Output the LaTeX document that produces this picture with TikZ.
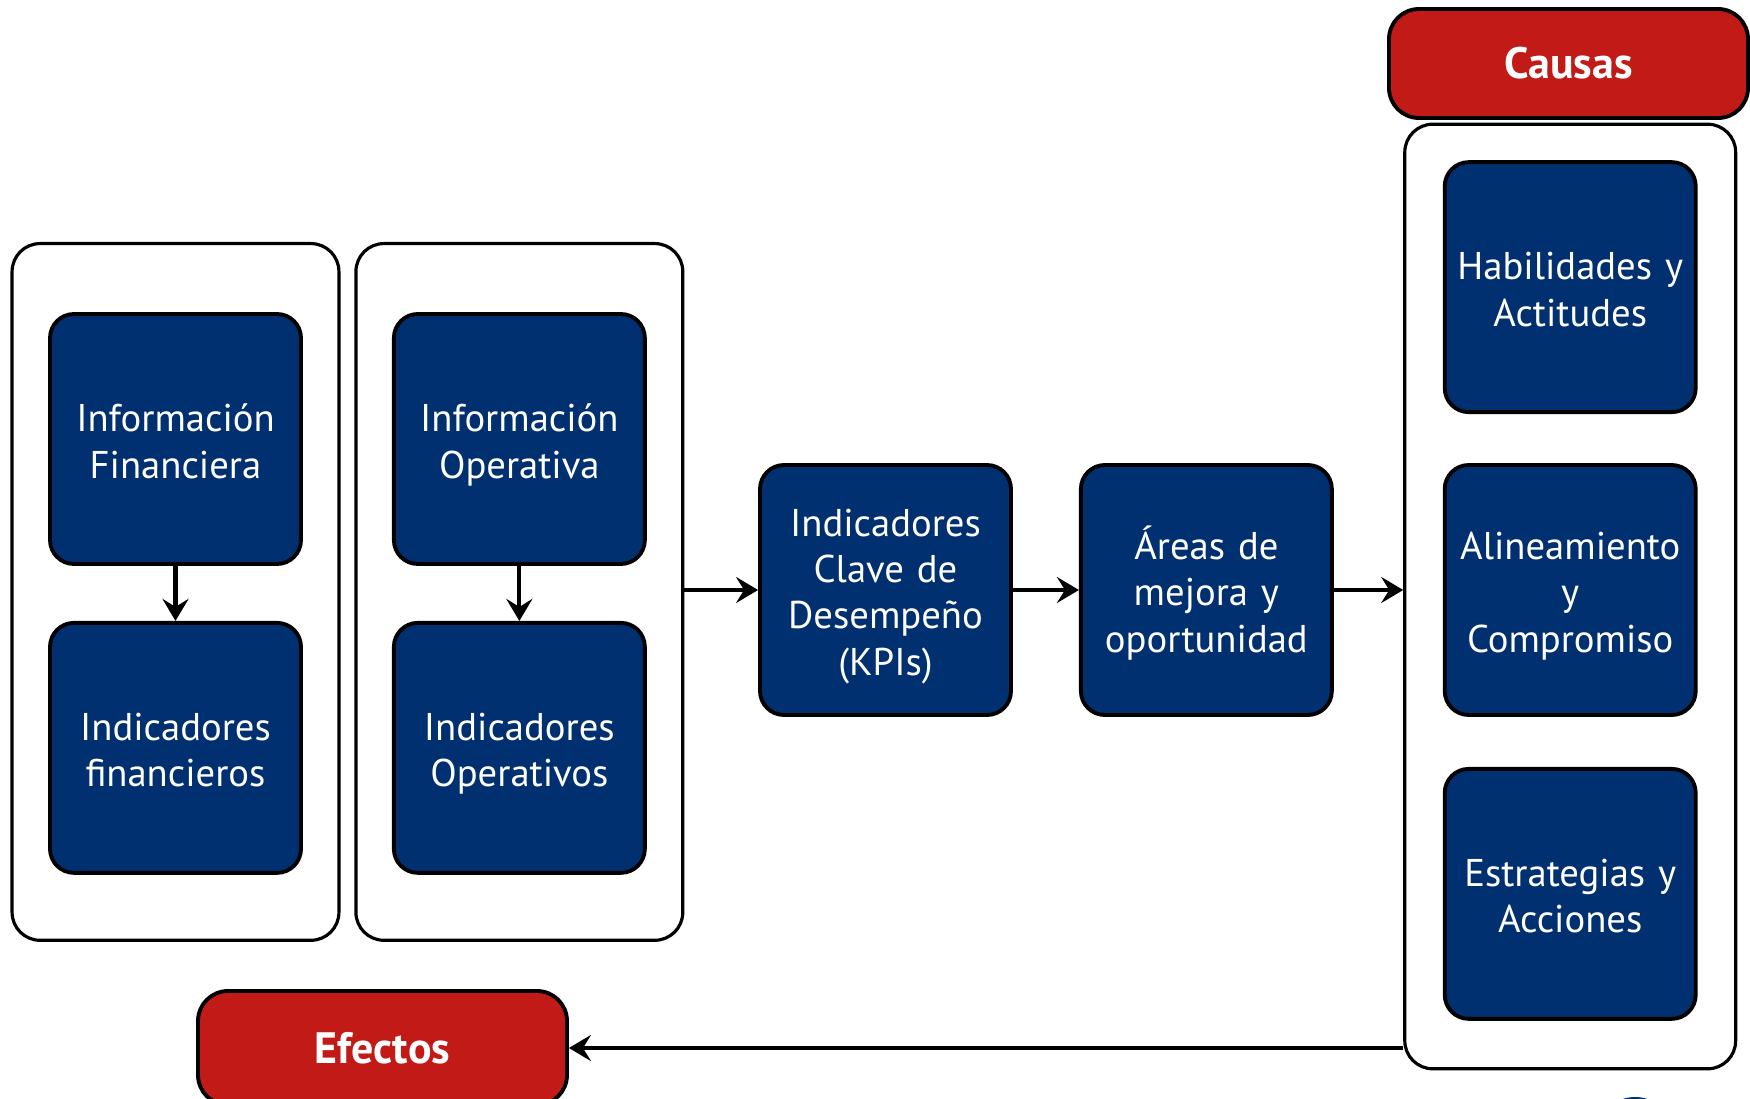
\documentclass[tikz,border=0pt]{standalone}
\usepackage{fontspec}
\setmainfont{PT Sans}
\usetikzlibrary{arrows.meta,positioning,fit,backgrounds}
\definecolor{kpiblue}{HTML}{003070}
\definecolor{kpired}{HTML}{C21A17}
\newcommand{\blktop}{\rule{0pt}{11.4pt}}
\newcommand{\blkbot}{\rule[-2.4pt]{0pt}{0pt}}

\begin{document}
\begin{tikzpicture}[
  x=0.1mm, y=-0.1mm,
  font=\fontsize{11}{13.2}\selectfont,
  node distance=5.5mm and 8.9mm,
  blk/.style={draw=black, line width=1.1pt, rounded corners=2.4mm, fill=kpiblue,
              text=white, minimum width=25.1mm, minimum height=25mm, text width=24mm,
              align=center, inner xsep=0.5mm, inner ysep=1mm,
              execute at begin node=\blktop, execute at end node=\blkbot},
  grp/.style={draw=black, line width=0.9pt, rounded corners=2.8mm, fill=white,
              inner xsep=3.6mm},
  hdr/.style={draw=black, line width=1.1pt, rounded corners=3mm, fill=kpired,
              text=white, font=\fontsize{12.5}{15}\selectfont\bfseries},
  arrow/.style={-{Stealth[length=2.2mm,width=2.6mm,inset=0.8mm]}, line width=1.2pt}
]
\useasboundingbox (0,0) rectangle (1750,1099);
\clip (0,0) rectangle (1750,1099);

% informacion -> indicadores
\node[blk] (finfo) at (175.5,439) {Información\\Financiera};
\node[blk, below=of finfo] (find) {Indicadores\\financieros};
\node[blk, right=of finfo] (oinfo) {Información\\Operativa};
\node[blk, below=of oinfo] (oind) {Indicadores\\Operativos};

\begin{scope}[on background layer]
  \node[grp, fit=(finfo)(find), inner ysep=6.7mm, yshift=0.15mm] (grpf) {};
  \node[grp, fit=(oinfo)(oind), inner ysep=6.7mm, yshift=0.15mm] (grpo) {};
\end{scope}

\node[blk] (kpi) at (885.5,590) {Indicadores\\Clave de\\Desempeño\\(KPIs)};
\node[blk, right=6.6mm of kpi] (areas) {Áreas de\\mejora y\\oportunidad};

% causas
\node[blk, right=10.9mm of areas] (alin) {Alineamiento\\y\\Compromiso};
\node[blk, above=4.9mm of alin] (habil) {Habilidades y\\Actitudes};
\node[blk, below=5mm of alin] (estr) {Estrategias y\\Acciones};
\begin{scope}[on background layer]
  \node[grp, fit=(habil)(estr), inner xsep=3.8mm, inner ysep=4.2mm, yshift=-0.6mm] (grpc) {};
\end{scope}

\node[hdr, minimum width=35.9mm, minimum height=10.9mm] (causas) at (1568.5,63.5) {Causas};
\node[hdr, minimum width=36.9mm, minimum height=11.4mm] (efectos) at (382.5,1048) {Efectos};

\draw[arrow] (finfo) -- (find);
\draw[arrow] (oinfo) -- (oind);
\draw[arrow] (grpo.east |- kpi.west) -- (kpi.west);
\draw[arrow] (kpi) -- (areas);
\draw[arrow] (areas.east) -- (areas.east -| grpc.west);
\draw[arrow] (grpc.west |- efectos.east) -- (efectos.east);

\fill[kpiblue] (1635,1112) ellipse [x radius=2.5mm, y radius=1.5mm];
\end{tikzpicture}
\end{document}
